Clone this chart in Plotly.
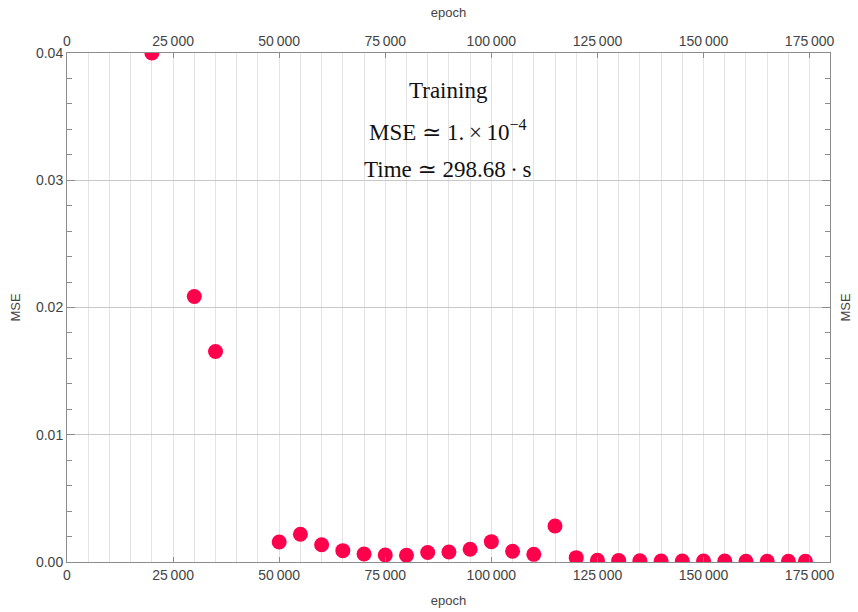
import plotly.graph_objects as go

epochs = [20000, 30000, 35000, 50000, 55000, 60000, 65000, 70000, 75000, 80000,
          85000, 90000, 95000, 100000, 105000, 110000, 115000, 120000, 125000,
          130000, 135000, 140000, 145000, 150000, 155000, 160000, 165000, 170000, 174000]
mse = [0.0400, 0.02087, 0.01654, 0.00157, 0.00218, 0.00136, 0.00089, 0.00063, 0.00055, 0.00053,
       0.00075, 0.00079, 0.00100, 0.00160, 0.00084, 0.00060, 0.00283, 0.00034, 0.00013,
       0.00012, 0.00010, 0.00008, 0.00008, 0.00007, 0.00007, 0.00006, 0.00006, 0.00005, 0.00005]

x_tickvals = [0, 25000, 50000, 75000, 100000, 125000, 150000, 175000]
x_ticktext = ["0", "25\u2009000", "50\u2009000", "75\u2009000", "100\u2009000",
              "125\u2009000", "150\u2009000", "175\u2009000"]
y_tickvals = [0, 0.01, 0.02, 0.03, 0.04]
y_ticktext = ["0.00", "0.01", "0.02", "0.03", "0.04"]

annot_lines = ["Training",
               "MSE \u2243 1.\u2009\u00d7\u200910<sup>\u22124</sup>",
               "Time \u2243 298.68\u2009\u00b7\u2009s"]

axis_color = "#8c8c8c"
tick_font = dict(family="Liberation Sans, Arial, sans-serif", size=14, color="#444444")
title_font = dict(family="Liberation Sans, Arial, sans-serif", size=13, color="#444444")
XR = [0, 179800]
YR = [0, 0.04]
minor_y = [i * 0.002 for i in range(1, 20) if i % 5 != 0]

fig = go.Figure()
fig.add_trace(go.Scatter(
    x=epochs, y=mse, mode="markers",
    marker=dict(size=15, color="#ff004d", line=dict(width=0)),
    cliponaxis=True, showlegend=False, hoverinfo="x+y",
))
fig.add_trace(go.Scatter(x=[None], y=[None], xaxis="x2", yaxis="y2", showlegend=False))

fig.update_layout(
    width=858, height=612,
    margin=dict(l=67, r=28, t=53, b=50),
    paper_bgcolor="white", plot_bgcolor="white",
    xaxis=dict(
        range=XR, tickvals=x_tickvals, ticktext=x_ticktext, automargin=False,
        ticks="inside", ticklen=5, tickcolor=axis_color,
        showline=True, linecolor=axis_color, linewidth=1,
        showgrid=True, gridcolor="#e3e3e3", gridwidth=1,
        minor=dict(tickvals=list(range(5000, 180000, 5000)), showgrid=True,
                   gridcolor="#e3e3e3", gridwidth=1, ticks=""),
        tickfont=tick_font, zeroline=False,
        title=dict(text="epoch", font=title_font, standoff=14),
    ),
    xaxis2=dict(
        range=XR, overlaying="x", side="top", tickvals=x_tickvals, ticktext=x_ticktext,
        automargin=False,
        ticks="inside", ticklen=5, tickcolor=axis_color,
        showline=True, linecolor=axis_color, linewidth=1, showgrid=False,
        tickfont=tick_font, zeroline=False,
        title=dict(text="epoch", font=title_font, standoff=12),
    ),
    yaxis=dict(
        range=YR, tickvals=y_tickvals, ticktext=y_ticktext, automargin=False,
        ticks="inside", ticklen=8, tickcolor=axis_color,
        showline=True, linecolor=axis_color, linewidth=1,
        showgrid=True, gridcolor="#c8c8c8", gridwidth=1,
        minor=dict(tickvals=minor_y, ticks="inside", ticklen=5,
                   tickcolor=axis_color, showgrid=False),
        tickfont=tick_font, zeroline=False,
        title=dict(text="MSE", font=title_font, standoff=12),
    ),
    yaxis2=dict(
        range=YR, overlaying="y", side="right", tickvals=y_tickvals,
        showticklabels=False, automargin=False,
        ticks="inside", ticklen=8, tickcolor=axis_color,
        showline=True, linecolor=axis_color, linewidth=1, showgrid=False,
        minor=dict(tickvals=minor_y, ticks="inside", ticklen=5, tickcolor=axis_color),
        zeroline=False,
        title=dict(text="MSE", font=title_font, standoff=10),
    ),
)

plot_top, plot_h = 53, 612 - 53 - 50
plot_left, plot_w = 67, 858 - 67 - 28
for line, py in zip(annot_lines, [91, 130, 169]):
    fig.add_annotation(
        x=(448 - plot_left) / plot_w, y=1 - (py - plot_top) / plot_h,
        xref="paper", yref="paper", xanchor="center", yanchor="middle",
        text=line, showarrow=False,
        font=dict(family="Liberation Serif, DejaVu Serif, serif", size=23, color="#111111"),
    )

fig.write_html("out.html", config={"displayModeBar": False},
               post_script="document.body.style.margin='0';")
